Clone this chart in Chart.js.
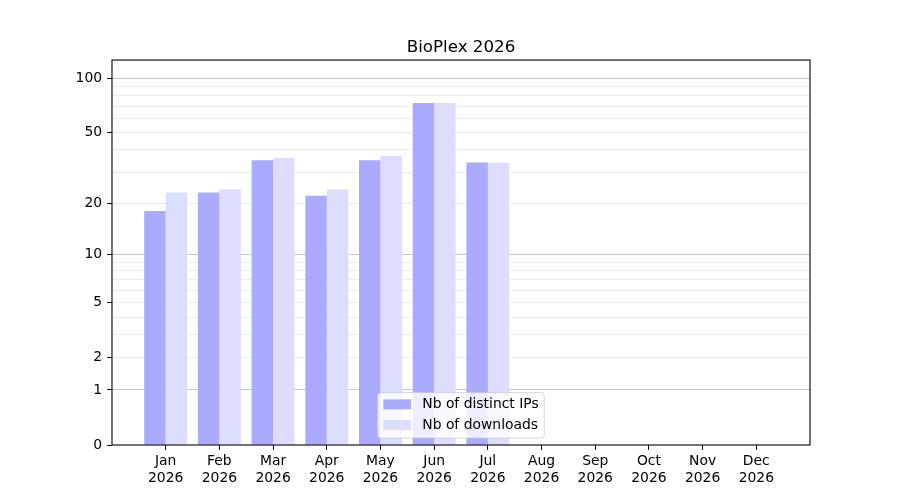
<!doctype html>
<html lang="en">
<head>
    <title>BioPlex 2026</title>
    <script src="https://cdn.jsdelivr.net/npm/chart.js@4.4.1/dist/chart.umd.min.js"></script>
    <style>
        body { margin: 0; background: #fff; }
    </style>
</head>
<body>
<canvas id="chart" width="900" height="500"></canvas>

<script>
    const months = ['Jan', 'Feb', 'Mar', 'Apr', 'May', 'Jun', 'Jul', 'Aug', 'Sep', 'Oct', 'Nov', 'Dec'];
    const yearLabel = '2026';
    const distinctIps = [18, 23, 35, 22, 35, 73, 34];
    const downloads = [23, 24, 36, 24, 37, 73, 34];

    // y axis is log10(1 + v), grid on every 1..9 and 10..90 step
    const yGridValues = [0, 1, 2, 3, 4, 5, 6, 7, 8, 9, 10, 20, 30, 40, 50, 60, 70, 80, 90, 100];
    const yLabelValues = [0, 1, 2, 5, 10, 20, 50, 100];
    const yMajorValues = [1, 10, 100];
    const yMax = 126;

    const FONT = 'DejaVu Sans';

    class Log1pScale extends Chart.Scale {
        static id = 'log1p';
        static defaults = {};

        determineDataLimits() {
            this.min = this.options.min;
            this.max = this.options.max;
        }

        buildTicks() {
            return yGridValues.map(v => ({value: v}));
        }

        configure() {
            super.configure();
            this._startValue = Math.log10(1 + this.min);
            this._valueRange = Math.log10(1 + this.max) - this._startValue;
        }

        getLabelForValue(value) {
            return String(value);
        }

        getPixelForValue(value) {
            return this.getPixelForDecimal((Math.log10(1 + value) - this._startValue) / this._valueRange);
        }

        getValueForPixel(pixel) {
            return Math.pow(10, this._startValue + this.getDecimalForPixel(pixel) * this._valueRange) - 1;
        }
    }
    Chart.register(Log1pScale);

    // matplotlib style box around the plot area
    const framePlugin = {
        id: 'frame',
        afterDraw(chart) {
            const a = chart.chartArea;
            const ctx = chart.ctx;
            ctx.save();
            ctx.strokeStyle = '#000';
            ctx.lineWidth = 1.1;
            ctx.strokeRect(a.left, a.top, a.right - a.left, a.bottom - a.top);
            ctx.restore();
        }
    };

    // legend drawn inside the plot, lower center
    const boxLegendPlugin = {
        id: 'boxLegend',
        afterDraw(chart) {
            const a = chart.chartArea;
            const ctx = chart.ctx;
            const sets = chart.data.datasets;
            const fs = 13.9;
            ctx.save();
            ctx.font = fs + 'px "' + FONT + '"';
            let textW = 0;
            sets.forEach(ds => { textW = Math.max(textW, ctx.measureText(ds.label).width); });
            const pad = 0.4 * fs, handleW = 2 * fs, gap = 0.8 * fs;
            const w = pad + handleW + gap + textW + pad;
            const h = 45.4;
            const x = (a.left + a.right) / 2 - w / 2;
            const y = a.bottom - 0.5 * fs - h;

            ctx.beginPath();
            ctx.roundRect(x, y, w, h, 3);
            ctx.fillStyle = 'rgba(255,255,255,0.8)';
            ctx.fill();
            ctx.strokeStyle = 'rgba(204,204,204,0.8)';
            ctx.lineWidth = 1;
            ctx.stroke();

            sets.forEach((ds, i) => {
                const cy = y + 11.7 + i * 20.7;
                ctx.fillStyle = ds.backgroundColor;
                ctx.fillRect(x + pad, cy - 5, handleW, 10);
                ctx.fillStyle = '#000';
                ctx.textBaseline = 'middle';
                ctx.textAlign = 'left';
                ctx.fillText(ds.label, x + pad + handleW + gap, cy);
            });
            ctx.restore();
        }
    };

    new Chart(document.getElementById('chart'), {
        type: 'bar',
        data: {
            datasets: [
                {
                    label: 'Nb of distinct IPs',
                    data: distinctIps.map((v, i) => ({x: i, y: v})),
                    backgroundColor: '#aaaaff',
                },
                {
                    label: 'Nb of downloads',
                    data: downloads.map((v, i) => ({x: i, y: v})),
                    backgroundColor: '#ddddff',
                },
            ],
        },
        options: {
            responsive: false,
            animation: false,
            layout: {
                padding: {left: 0, right: 90, top: 0, bottom: 0},
            },
            datasets: {
                bar: {
                    categoryPercentage: 0.8,
                    barPercentage: 1.0,
                },
            },
            plugins: {
                legend: {display: false},
                tooltip: {enabled: false},
                title: {
                    display: true,
                    fullSize: false,
                    text: 'BioPlex 2026',
                    color: '#000',
                    font: {family: FONT, size: 16.7, weight: 'normal'},
                    padding: {top: 38, bottom: 2},
                },
            },
            scales: {
                x: {
                    type: 'linear',
                    min: -1,
                    max: 12,
                    offset: false,
                    border: {display: false},
                    grid: {
                        offset: false,
                        drawOnChartArea: false,
                        tickLength: 4.9,
                        tickColor: '#000',
                    },
                    afterBuildTicks: scale => {
                        scale.ticks = months.map((m, i) => ({value: i}));
                    },
                    afterFit: scale => {
                        scale.height = 55;
                    },
                    ticks: {
                        autoSkip: false,
                        maxRotation: 0,
                        padding: 3,
                        color: '#000',
                        font: {family: FONT, size: 13.9},
                        callback: v => [months[v], yearLabel],
                    },
                },
                y: {
                    type: 'log1p',
                    min: 0,
                    max: yMax,
                    z: 1,
                    border: {display: false},
                    grid: {
                        tickLength: 4.9,
                        lineWidth: 1,
                        color: ctx => {
                            const v = ctx.tick.value;
                            if (v === 0) return 'rgba(0,0,0,0)';
                            return yMajorValues.includes(v) ? 'rgba(0,0,0,0.22)' : 'rgba(0,0,0,0.075)';
                        },
                        tickColor: ctx => yLabelValues.includes(ctx.tick.value) ? '#000' : 'rgba(0,0,0,0)',
                    },
                    afterFit: scale => {
                        scale.width = 112;
                    },
                    ticks: {
                        autoSkip: false,
                        padding: 5,
                        color: '#000',
                        font: {family: FONT, size: 13.9},
                        callback: v => yLabelValues.includes(v) ? String(v) : '',
                    },
                },
            },
        },
        plugins: [framePlugin, boxLegendPlugin],
    });
</script>
</body>
</html>
